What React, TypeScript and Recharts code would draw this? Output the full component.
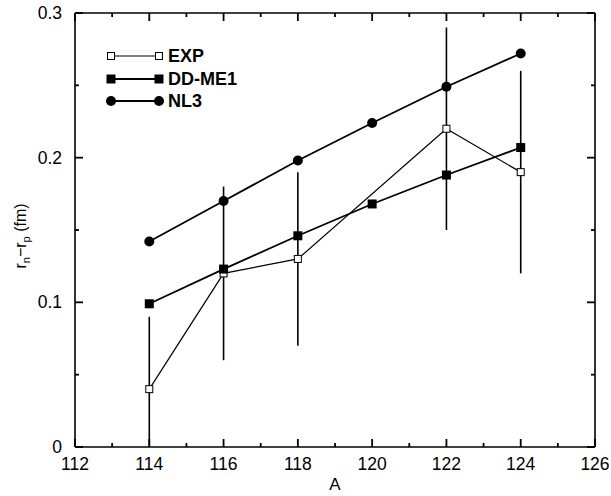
import { ErrorBar, Line, LineChart, ReferenceLine, XAxis, YAxis } from "recharts";

const MASS = [114, 116, 118, 120, 122, 124];
const NL3 = [0.142, 0.17, 0.198, 0.224, 0.249, 0.272];
const DDME1 = [0.099, 0.123, 0.146, 0.168, 0.188, 0.207];

const EXP_MASS = [114, 116, 118, 122, 124];
const EXP = [0.04, 0.12, 0.13, 0.22, 0.19];
const EXP_ERR_LOW = [0.04, 0.06, 0.06, 0.07, 0.07];
const EXP_ERR_HIGH = [0.05, 0.06, 0.06, 0.07, 0.07];

const X_TICKS = [112, 113, 114, 115, 116, 117, 118, 119, 120, 121, 122, 123, 124, 125, 126];
const Y_TICKS = [0, 0.05, 0.1, 0.15, 0.2, 0.25, 0.3];

const FONT = "'Liberation Sans', Arial, Helvetica, sans-serif";
const MAJOR = 8;
const MINOR = 4;
const MARGIN = 8;
const TICK_W = 1.8;
// plot box edges (chart margins + axis sizes below)
const PLOT_TOP = 13;
const PLOT_RIGHT = 595;

const theoryData = MASS.map((a, i) => ({ a, nl3: NL3[i], ddme1: DDME1[i] }));
const expData = EXP_MASS.map((a, i) => ({ a, exp: EXP[i], err: [EXP_ERR_LOW[i], EXP_ERR_HIGH[i]] }));

// bottom tick also mirrors its tick mark onto the top edge
function XTick(props: any) {
  const { x, y, payload } = props;
  const v = payload.value as number;
  const major = v % 2 === 0;
  const len = major ? MAJOR : MINOR;
  const axisY = y - MARGIN;
  return (
    <g>
      <line x1={x} x2={x} y1={axisY} y2={axisY - len} stroke="#000" strokeWidth={TICK_W} />
      <line x1={x} x2={x} y1={PLOT_TOP} y2={PLOT_TOP + len} stroke="#000" strokeWidth={TICK_W} />
      <text x={x} y={y + 15} textAnchor="middle" fontSize={17.5} fontFamily={FONT} fill="#000">
        {major ? String(v) : ""}
      </text>
    </g>
  );
}

// left tick also mirrors its tick mark onto the right edge
function YTick(props: any) {
  const { x, y, payload } = props;
  const v = payload.value as number;
  const major = Math.abs(v * 10 - Math.round(v * 10)) < 1e-6;
  const len = major ? MAJOR : MINOR;
  const axisX = x + MARGIN;
  return (
    <g>
      <line x1={axisX} x2={axisX + len} y1={y} y2={y} stroke="#000" strokeWidth={TICK_W} />
      <line x1={PLOT_RIGHT} x2={PLOT_RIGHT - len} y1={y} y2={y} stroke="#000" strokeWidth={TICK_W} />
      <text x={x - 5} y={y + 6} textAnchor="end" fontSize={17.5} fontFamily={FONT} fill="#000">
        {major ? String(v) : ""}
      </text>
    </g>
  );
}

function OpenSquare(props: any) {
  const { cx, cy } = props;
  if (cx == null || cy == null) return null;
  return <rect x={cx - 3.5} y={cy - 3.5} width={7} height={7} fill="#fff" stroke="#000" strokeWidth={1} />;
}

function FilledSquare(props: any) {
  const { cx, cy } = props;
  if (cx == null || cy == null) return null;
  return <rect x={cx - 4.5} y={cy - 4.5} width={9} height={9} fill="#000" />;
}

function FilledCircle(props: any) {
  const { cx, cy } = props;
  if (cx == null || cy == null) return null;
  return <circle cx={cx} cy={cy} r={5} fill="#000" />;
}

function YLabel() {
  return (
    <text transform="translate(26, 236) rotate(-90)" textAnchor="middle" fontSize={16} fontFamily={FONT} fill="#000">
      r<tspan fontSize={11} dy={4}>n</tspan>
      <tspan dy={-4}>−r</tspan>
      <tspan fontSize={11} dy={4}>p</tspan>
      <tspan dy={-4}> (fm)</tspan>
    </text>
  );
}

const LEGEND = [
  { name: "EXP", kind: "open" },
  { name: "DD-ME1", kind: "square" },
  { name: "NL3", kind: "circle" },
];

function LegendMarker({ kind, cx, cy }: { kind: string; cx: number; cy: number }) {
  if (kind === "open") return <OpenSquare cx={cx} cy={cy} />;
  if (kind === "square") return <FilledSquare cx={cx} cy={cy} />;
  return <FilledCircle cx={cx} cy={cy} />;
}

function ChartLegend() {
  return (
    <div style={{ position: "absolute", left: 104, top: 45 }}>
      {LEGEND.map((item) => (
        <div key={item.name} style={{ display: "flex", alignItems: "center", height: 22.5 }}>
          <svg width={60} height={22} style={{ display: "block" }}>
            <line x1={7} x2={55} y1={11} y2={11} stroke="#000" strokeWidth={item.kind === "open" ? 1.2 : 1.8} />
            <LegendMarker kind={item.kind} cx={7} cy={11} />
            <LegendMarker kind={item.kind} cx={55} cy={11} />
          </svg>
          <span style={{ fontFamily: FONT, fontWeight: "bold", fontSize: 18, marginLeft: 4, lineHeight: "22px" }}>
            {item.name}
          </span>
        </div>
      ))}
    </div>
  );
}

export default function App() {
  return (
    <div style={{ position: "absolute", left: 0, top: 0, width: 611, height: 496, background: "#fff" }}>
      <LineChart width={611} height={496} margin={{ top: 13, right: 16, bottom: 0, left: 15 }}>
        <XAxis
          dataKey="a"
          type="number"
          domain={[112, 126]}
          ticks={X_TICKS}
          interval={0}
          height={49}
          tickSize={0}
          tickMargin={MARGIN}
          axisLine={{ stroke: "#000", strokeWidth: 1.6 }}
          tick={<XTick />}
          label={{ value: "A", position: "insideBottom", offset: 6, fontSize: 17, fontFamily: FONT, fill: "#000" }}
        />
        <YAxis
          type="number"
          domain={[0, 0.3]}
          ticks={Y_TICKS}
          interval={0}
          width={60}
          tickSize={0}
          tickMargin={MARGIN}
          axisLine={{ stroke: "#000", strokeWidth: 1.6 }}
          tick={<YTick />}
          label={<YLabel />}
        />
        {/* top and right edges of the frame */}
        <ReferenceLine y={0.3} stroke="#000" strokeWidth={1.6} />
        <ReferenceLine x={126} stroke="#000" strokeWidth={1.6} />
        <Line
          data={expData}
          dataKey="exp"
          stroke="#000"
          strokeWidth={1.2}
          dot={<OpenSquare />}
          isAnimationActive={false}
        >
          <ErrorBar dataKey="err" direction="y" width={0} stroke="#000" strokeWidth={1.6} isAnimationActive={false} />
        </Line>
        <Line
          data={theoryData}
          dataKey="ddme1"
          stroke="#000"
          strokeWidth={1.8}
          dot={<FilledSquare />}
          isAnimationActive={false}
        />
        <Line
          data={theoryData}
          dataKey="nl3"
          stroke="#000"
          strokeWidth={1.8}
          dot={<FilledCircle />}
          isAnimationActive={false}
        />
      </LineChart>
      <ChartLegend />
    </div>
  );
}
